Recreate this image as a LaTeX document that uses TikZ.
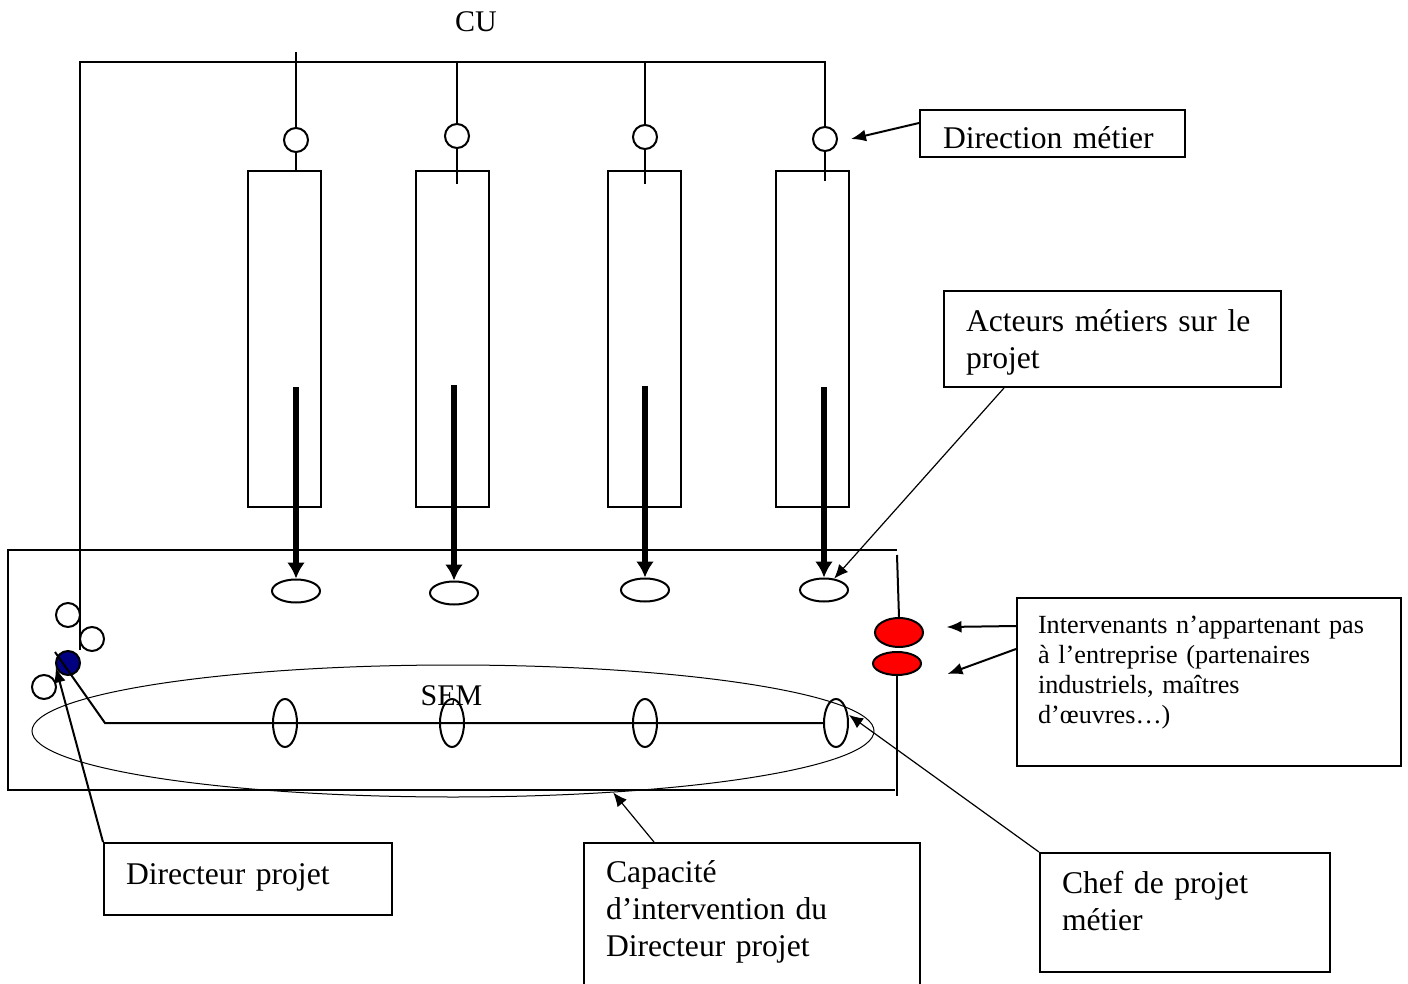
\documentclass[tikz,border=0pt]{standalone}
\usepackage{fontspec}
\setmainfont{Liberation Serif}
\usetikzlibrary{arrows.meta,shapes.geometric}
\definecolor{marine}{RGB}{0,0,128}

\begin{document}
\begin{tikzpicture}%
[x=0.5pt,y=-0.5pt,line width=1pt,%
rond/.style={draw, circle, inner sep=0pt, minimum size=12pt},%
acteur/.style={draw, ellipse, inner sep=0pt, minimum width=24pt, minimum height=11.5pt},%
chef/.style={draw, ellipse, inner sep=0pt, minimum width=12pt, minimum height=24pt},%
externe/.style={draw, ellipse, fill=red, inner sep=0pt, minimum width=24pt},%
metier/.style={draw, inner sep=0pt, minimum width=36.5pt, minimum height=168pt},%
cadre/.style={draw, inner sep=0pt},%
texte/.style={inner sep=0pt, anchor=base west, align=left, font=\fontsize{15.8}{18.5}\selectfont},%
fleche/.style={-{Latex[length=7.5pt,width=6pt]}},%
fine/.style={line width=0.6pt, -{Latex[length=7pt,width=6pt]}},%
grosse/.style={line width=3pt, -{Latex[length=8pt,width=9pt]}}]

\useasboundingbox (0,0) rectangle (1408,984);

\node[font=\fontsize{15}{18}\selectfont, anchor=base] (cutxt) at (476,32) {CU};

\foreach \i/\x in {1/284,2/452,3/644.5,4/812.5}
  \node[metier] (f\i) at (\x,339) {};

\node[rond] (dm1) at (296,140) {};
\node[rond] (dm2) at (457,136) {};
\node[rond] (dm3) at (645,137) {};
\node[rond] (dm4) at (825,139) {};

\coordinate (cu) at (296,52);
\coordinate (busw) at (80,62);
\coordinate (sem) at (80,650);
\draw (sem) -- (busw) -- (dm4.north |- busw) -- (dm4.north);
\draw (cu) -- (dm1.north);
\draw (dm2.north |- busw) -- (dm2.north);
\draw (dm3.north |- busw) -- (dm3.north);
\draw (dm1.south) -- (dm1.south |- f1.north);
\foreach \i/\l in {2/35,3/34,4/29}
  \draw (dm\i.south) -- ++(0,\l);

\foreach \i/\x/\y/\t in {1/296/591/387,2/454/593/385,3/645/590/386,4/824/590/387}{
  \node[acteur] (a\i) at (\x,\y) {};
  \coordinate (g\i) at (\x,\t);
  \draw[grosse] (g\i) -- (a\i.north);
}

\draw (897,550) -- (8,550) -- (8,790) -- (895,790);
\node[externe, minimum height=14.5pt] (ext1) at (899,632.5) {};
\node[externe, minimum height=11.5pt] (ext2) at (897,663.5) {};
\coordinate (semne) at (897,555);
\draw (semne) -- (ext1.north);
\draw (ext2.south) -- ++(0,120);

\node[font=\fontsize{15}{18}\selectfont, anchor=base] (semtxt) at (451.5,705) {SEM};
\node[draw, ellipse, line width=0.5pt, inner sep=0pt, minimum width=421pt, minimum height=66pt] (capa) at (453,731) {};

\foreach \i/\x in {1/285,2/452,3/645,4/836}
  \node[chef] (c\i) at (\x,723) {};

\node[rond] (p1) at (68,615) {};
\node[rond] (p2) at (92,639) {};
\node[rond, fill=marine] (dp) at (68,663) {};
\node[rond] (p3) at (44,687) {};

\coordinate (dpl) at (55,652);
\coordinate (coude) at (105,723);
\draw (dpl) -- (coude) -- (c4.west);

\node[cadre, minimum width=132.5pt, minimum height=23.5pt] (dmbox) at (1052.5,133.5) {};
\node[texte, text width=120pt] (dmtxt) at (942,149) {Direction métier};
\draw[fleche] ([yshift=-7pt]dmbox.north west) -- ([xshift=6.5pt]dm4.east);

\node[cadre, minimum width=168.5pt, minimum height=48pt] (actbox) at (1112.5,339) {};
\node[texte, text width=160pt] (acttxt) at (965,331) {Acteurs métiers sur le\\projet};
\draw[fine] ([xshift=30.5pt]actbox.south west) -- (a4);

\node[cadre, minimum width=192pt, minimum height=84pt] (intbox) at (1209,682) {};
\node[texte, font=\fontsize{13.1}{15}\selectfont, text width=185pt] (inttxt) at (1037,633)
  {Intervenants n’appartenant pas\\à l’entreprise (partenaires\\industriels, maîtres\\d’œuvres…)};
\draw[fleche] ([yshift=-14.5pt]intbox.north west) -- ([xshift=11.25pt,yshift=2.75pt]ext1.east);
\draw[fleche] ([yshift=-26pt]intbox.north west) -- ([xshift=12.75pt,yshift=-5.25pt]ext2.east);

\node[cadre, minimum width=144pt, minimum height=36pt] (dirbox) at (248,879) {};
\node[texte, text width=135pt] (dirtxt) at (125,884) {Directeur projet};
\draw[fleche] (dirbox.north west) -- (dp.200);

\node[cadre, minimum width=168pt, minimum height=78.5pt] (capbox) at (752,921.5) {};
\node[texte, text width=160pt] (captxt) at (605,882) {Capacité\\d’intervention du\\Directeur projet};
\draw[fine] ([xshift=35.5pt]capbox.north west) -- (capa.-21);

\node[cadre, minimum width=145pt, minimum height=59.5pt] (chefbox) at (1185,912.5) {};
\node[texte, text width=135pt] (cheftxt) at (1061,893) {Chef de projet\\métier};
\draw[fine] (chefbox.north west) -- ([yshift=4pt]c4.east);
\end{tikzpicture}
\end{document}
